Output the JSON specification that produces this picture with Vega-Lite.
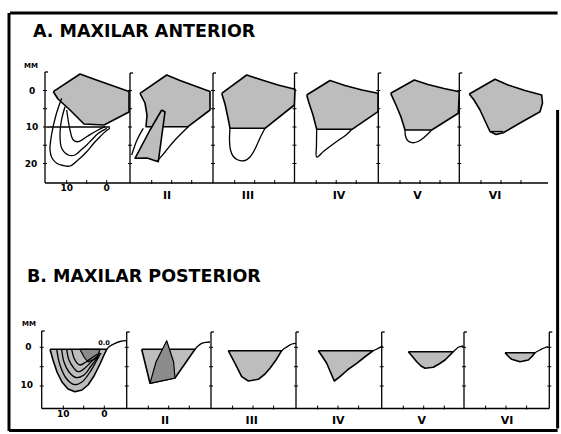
{
  "$schema": "https://vega.github.io/schema/vega-lite/v6.json",
  "width": 561,
  "height": 434,
  "autosize": {"type": "fit", "contains": "padding"},
  "padding": 0,
  "background": "white",
  "config": {"view": {"stroke": null}},
  "datasets": {
    "frame": [
      {"x": 2.5, "y": 3.25, "x2": 139.4, "y2": 3.25},
      {"x": 2.25, "y": 3.25, "x2": 2.25, "y2": 107.75},
      {"x": 2.25, "y": 107.6, "x2": 139.4, "y2": 107.6},
      {"x": 139.4, "y": 27.5, "x2": 139.4, "y2": 107.1}
    ],
    "axes": [
      {"x": 11.25, "y": 18, "x2": 11.25, "y2": 45.75},
      {"x": 32.5, "y": 18.25, "x2": 32.5, "y2": 45.75},
      {"x": 53.25, "y": 18.25, "x2": 53.25, "y2": 45.75},
      {"x": 73.625, "y": 18.25, "x2": 73.625, "y2": 45.75},
      {"x": 94.575, "y": 18.25, "x2": 94.575, "y2": 45.75},
      {"x": 114.825, "y": 18.25, "x2": 114.825, "y2": 45.75},
      {"x": 11.25, "y": 45.75, "x2": 137, "y2": 45.75},
      {"x": 11.25, "y": 18, "x2": 12, "y2": 18},
      {"x": 32.5, "y": 18.25, "x2": 33.25, "y2": 18.25},
      {"x": 53.25, "y": 18.25, "x2": 54, "y2": 18.25},
      {"x": 73.625, "y": 18.25, "x2": 74.375, "y2": 18.25},
      {"x": 94.575, "y": 18.25, "x2": 95.325, "y2": 18.25},
      {"x": 114.825, "y": 18.25, "x2": 115.575, "y2": 18.25},
      {"x": 10.425, "y": 82.75, "x2": 10.425, "y2": 102.125},
      {"x": 31.675, "y": 83, "x2": 31.675, "y2": 102.125},
      {"x": 52.75, "y": 83, "x2": 52.75, "y2": 102.125},
      {"x": 74, "y": 83, "x2": 74, "y2": 102.125},
      {"x": 95.425, "y": 83, "x2": 95.425, "y2": 102.125},
      {"x": 116, "y": 83, "x2": 116, "y2": 102.125},
      {"x": 137.325, "y": 83, "x2": 137.325, "y2": 102.125},
      {"x": 10.425, "y": 102.125, "x2": 137.325, "y2": 102.125},
      {"x": 10.425, "y": 82.75, "x2": 11.175, "y2": 82.75},
      {"x": 31.675, "y": 83, "x2": 32.425, "y2": 83},
      {"x": 52.75, "y": 83, "x2": 53.5, "y2": 83},
      {"x": 74, "y": 83, "x2": 74.75, "y2": 83},
      {"x": 95.425, "y": 83, "x2": 96.175, "y2": 83},
      {"x": 116, "y": 83, "x2": 116.75, "y2": 83},
      {"x": 137.325, "y": 83, "x2": 138.075, "y2": 83}
    ],
    "hticks": [
      {"x": 11.25, "y": 22.625}, {"x": 11.25, "y": 27.175}, {"x": 11.25, "y": 31.75}, {"x": 11.25, "y": 36.3}, {"x": 11.25, "y": 40.875},
      {"x": 32.5, "y": 22.625}, {"x": 32.5, "y": 27.175}, {"x": 32.5, "y": 31.75}, {"x": 32.5, "y": 36.3}, {"x": 32.5, "y": 40.875},
      {"x": 53.25, "y": 22.625}, {"x": 53.25, "y": 27.175}, {"x": 53.25, "y": 31.75}, {"x": 53.25, "y": 36.3}, {"x": 53.25, "y": 40.875},
      {"x": 73.625, "y": 22.625}, {"x": 73.625, "y": 27.175}, {"x": 73.625, "y": 31.75}, {"x": 73.625, "y": 36.3}, {"x": 73.625, "y": 40.875},
      {"x": 94.575, "y": 22.625}, {"x": 94.575, "y": 27.175}, {"x": 94.575, "y": 31.75}, {"x": 94.575, "y": 36.3}, {"x": 94.575, "y": 40.875},
      {"x": 114.825, "y": 22.625}, {"x": 114.825, "y": 27.175}, {"x": 114.825, "y": 31.75}, {"x": 114.825, "y": 36.3}, {"x": 114.825, "y": 40.875},
      {"x": 10.425, "y": 86.825}, {"x": 10.425, "y": 91.675}, {"x": 10.425, "y": 96.5},
      {"x": 31.675, "y": 86.825}, {"x": 31.675, "y": 91.675}, {"x": 31.675, "y": 96.5},
      {"x": 52.75, "y": 86.825}, {"x": 52.75, "y": 91.675}, {"x": 52.75, "y": 96.5},
      {"x": 74, "y": 86.825}, {"x": 74, "y": 91.675}, {"x": 74, "y": 96.5},
      {"x": 95.425, "y": 86.825}, {"x": 95.425, "y": 91.675}, {"x": 95.425, "y": 96.5},
      {"x": 116, "y": 86.825}, {"x": 116, "y": 91.675}, {"x": 116, "y": 96.5},
      {"x": 137.325, "y": 86.825}, {"x": 137.325, "y": 91.675}, {"x": 137.325, "y": 96.5}
    ],
    "vticks": [
      {"x": 16.675, "y": 45.5}, {"x": 21.675, "y": 45.5}, {"x": 26.675, "y": 45.5},
      {"x": 37.925, "y": 45.5}, {"x": 42.925, "y": 45.5}, {"x": 47.925, "y": 45.5},
      {"x": 58.675, "y": 45.5}, {"x": 63.675, "y": 45.5}, {"x": 68.675, "y": 45.5},
      {"x": 79.05, "y": 45.5}, {"x": 84.05, "y": 45.5}, {"x": 89.05, "y": 45.5},
      {"x": 100, "y": 45.5}, {"x": 105, "y": 45.5}, {"x": 110, "y": 45.5},
      {"x": 120.25, "y": 45.5}, {"x": 125.25, "y": 45.5}, {"x": 130.25, "y": 45.5},
      {"x": 15.825, "y": 101.875}, {"x": 20.925, "y": 101.875}, {"x": 26.075, "y": 101.875},
      {"x": 37.075, "y": 101.875}, {"x": 42.175, "y": 101.875}, {"x": 47.325, "y": 101.875},
      {"x": 58.15, "y": 101.875}, {"x": 63.25, "y": 101.875}, {"x": 68.4, "y": 101.875},
      {"x": 79.4, "y": 101.875}, {"x": 84.5, "y": 101.875}, {"x": 89.65, "y": 101.875},
      {"x": 100.825, "y": 101.875}, {"x": 105.925, "y": 101.875}, {"x": 111.075, "y": 101.875},
      {"x": 121.4, "y": 101.875}, {"x": 126.5, "y": 101.875}, {"x": 131.65, "y": 101.875}
    ],
    "polys": [
      {"id": "A1", "o": 0, "x": 13.325, "y": 22.925}, {"id": "A1", "o": 1, "x": 20, "y": 18.5}, {"id": "A1", "o": 2, "x": 23.75, "y": 19.875}, {"id": "A1", "o": 3, "x": 28, "y": 21.375}, {"id": "A1", "o": 4, "x": 32.25, "y": 22.875}, {"id": "A1", "o": 5, "x": 32.25, "y": 28}, {"id": "A1", "o": 6, "x": 26, "y": 31.25}, {"id": "A1", "o": 7, "x": 21, "y": 31}, {"id": "A1", "o": 8, "x": 17.5, "y": 27.5}, {"id": "A1", "o": 9, "x": 14.5, "y": 24.75}, {"id": "A1", "o": 10, "x": 13.325, "y": 22.925},
      {"id": "A2", "o": 0, "x": 35, "y": 23.325}, {"id": "A2", "o": 1, "x": 41.675, "y": 18.75}, {"id": "A2", "o": 2, "x": 45, "y": 20.125}, {"id": "A2", "o": 3, "x": 48.75, "y": 21.5}, {"id": "A2", "o": 4, "x": 52.5, "y": 22.875}, {"id": "A2", "o": 5, "x": 52.5, "y": 27.5}, {"id": "A2", "o": 6, "x": 47, "y": 31.675}, {"id": "A2", "o": 7, "x": 36.5, "y": 31.675}, {"id": "A2", "o": 8, "x": 36.75, "y": 28.75}, {"id": "A2", "o": 9, "x": 36.25, "y": 25.75}, {"id": "A2", "o": 10, "x": 35, "y": 23.325},
      {"id": "A2s", "o": 0, "x": 40.425, "y": 27.5}, {"id": "A2s", "o": 1, "x": 41.25, "y": 28}, {"id": "A2s", "o": 2, "x": 39.575, "y": 40.425}, {"id": "A2s", "o": 3, "x": 36.75, "y": 39.5}, {"id": "A2s", "o": 4, "x": 33.75, "y": 39.575}, {"id": "A2s", "o": 5, "x": 37.5, "y": 32.5}, {"id": "A2s", "o": 6, "x": 40.425, "y": 27.5},
      {"id": "A3", "o": 0, "x": 55.425, "y": 23.325}, {"id": "A3", "o": 1, "x": 61.675, "y": 18.75}, {"id": "A3", "o": 2, "x": 65.5, "y": 20}, {"id": "A3", "o": 3, "x": 69.5, "y": 21.25}, {"id": "A3", "o": 4, "x": 73.75, "y": 22.325}, {"id": "A3", "o": 5, "x": 73.575, "y": 26.25}, {"id": "A3", "o": 6, "x": 66.25, "y": 32.075}, {"id": "A3", "o": 7, "x": 57.5, "y": 32.075}, {"id": "A3", "o": 8, "x": 57, "y": 29.5}, {"id": "A3", "o": 9, "x": 56.25, "y": 26}, {"id": "A3", "o": 10, "x": 55.425, "y": 23.325},
      {"id": "A4", "o": 0, "x": 76.675, "y": 23.75}, {"id": "A4", "o": 1, "x": 82.5, "y": 20.125}, {"id": "A4", "o": 2, "x": 86.25, "y": 21.375}, {"id": "A4", "o": 3, "x": 90.5, "y": 22.5}, {"id": "A4", "o": 4, "x": 94.5, "y": 23.325}, {"id": "A4", "o": 5, "x": 94.5, "y": 27.925}, {"id": "A4", "o": 6, "x": 88, "y": 32.325}, {"id": "A4", "o": 7, "x": 79.175, "y": 32.325}, {"id": "A4", "o": 8, "x": 78.25, "y": 28.75}, {"id": "A4", "o": 9, "x": 77.25, "y": 25.75}, {"id": "A4", "o": 10, "x": 76.675, "y": 23.75},
      {"id": "A5", "o": 0, "x": 97.675, "y": 23.325}, {"id": "A5", "o": 1, "x": 103.575, "y": 20}, {"id": "A5", "o": 2, "x": 107, "y": 21.125}, {"id": "A5", "o": 3, "x": 111, "y": 22.125}, {"id": "A5", "o": 4, "x": 114.825, "y": 22.925}, {"id": "A5", "o": 5, "x": 114.575, "y": 28.325}, {"id": "A5", "o": 6, "x": 107.925, "y": 32.5}, {"id": "A5", "o": 7, "x": 101.25, "y": 32.5}, {"id": "A5", "o": 8, "x": 100.25, "y": 29.25}, {"id": "A5", "o": 9, "x": 99, "y": 26.25}, {"id": "A5", "o": 10, "x": 97.675, "y": 23.325},
      {"id": "A6", "o": 0, "x": 117.325, "y": 23.5}, {"id": "A6", "o": 1, "x": 123.75, "y": 19.825}, {"id": "A6", "o": 2, "x": 127, "y": 21.25}, {"id": "A6", "o": 3, "x": 131.25, "y": 22.625}, {"id": "A6", "o": 4, "x": 135.425, "y": 23.75}, {"id": "A6", "o": 5, "x": 135.625, "y": 25.75}, {"id": "A6", "o": 6, "x": 135, "y": 27.925}, {"id": "A6", "o": 7, "x": 130, "y": 30.75}, {"id": "A6", "o": 8, "x": 125.825, "y": 33.175}, {"id": "A6", "o": 9, "x": 124, "y": 33.625}, {"id": "A6", "o": 10, "x": 122.5, "y": 32.875}, {"id": "A6", "o": 11, "x": 121.5, "y": 30.75}, {"id": "A6", "o": 12, "x": 120, "y": 27.5}, {"id": "A6", "o": 13, "x": 118.5, "y": 25}, {"id": "A6", "o": 14, "x": 117.325, "y": 23.5},
      {"id": "B1", "o": 0, "x": 12.5, "y": 87.325}, {"id": "B1", "o": 1, "x": 13.25, "y": 90}, {"id": "B1", "o": 2, "x": 14.25, "y": 93}, {"id": "B1", "o": 3, "x": 15.5, "y": 95.5}, {"id": "B1", "o": 4, "x": 17, "y": 97.25}, {"id": "B1", "o": 5, "x": 18.75, "y": 97.925}, {"id": "B1", "o": 6, "x": 20.5, "y": 97.5}, {"id": "B1", "o": 7, "x": 22, "y": 96.25}, {"id": "B1", "o": 8, "x": 23.5, "y": 94}, {"id": "B1", "o": 9, "x": 25, "y": 91}, {"id": "B1", "o": 10, "x": 26, "y": 88.75}, {"id": "B1", "o": 11, "x": 26.675, "y": 87.325}, {"id": "B1", "o": 12, "x": 12.5, "y": 87.325},
      {"id": "B2", "o": 0, "x": 35.425, "y": 87.325}, {"id": "B2", "o": 1, "x": 37.5, "y": 95.825}, {"id": "B2", "o": 2, "x": 43.75, "y": 94.5}, {"id": "B2", "o": 3, "x": 48.75, "y": 87.325}, {"id": "B2", "o": 4, "x": 35.425, "y": 87.325},
      {"id": "B3", "o": 0, "x": 57.075, "y": 87.675}, {"id": "B3", "o": 1, "x": 58.75, "y": 90.825}, {"id": "B3", "o": 2, "x": 60.425, "y": 94.175}, {"id": "B3", "o": 3, "x": 62.075, "y": 95.25}, {"id": "B3", "o": 4, "x": 64.575, "y": 94.825}, {"id": "B3", "o": 5, "x": 66.25, "y": 93.5}, {"id": "B3", "o": 6, "x": 67.5, "y": 92.075}, {"id": "B3", "o": 7, "x": 69, "y": 90}, {"id": "B3", "o": 8, "x": 70.425, "y": 87.675}, {"id": "B3", "o": 9, "x": 57.075, "y": 87.675},
      {"id": "B4", "o": 0, "x": 79.575, "y": 87.675}, {"id": "B4", "o": 1, "x": 80.5, "y": 89}, {"id": "B4", "o": 2, "x": 81.675, "y": 90.825}, {"id": "B4", "o": 3, "x": 82.925, "y": 93.75}, {"id": "B4", "o": 4, "x": 83.575, "y": 95.25}, {"id": "B4", "o": 5, "x": 85, "y": 94.175}, {"id": "B4", "o": 6, "x": 87, "y": 92.375}, {"id": "B4", "o": 7, "x": 89.175, "y": 90.825}, {"id": "B4", "o": 8, "x": 91.5, "y": 89}, {"id": "B4", "o": 9, "x": 93.325, "y": 87.675}, {"id": "B4", "o": 10, "x": 79.575, "y": 87.675},
      {"id": "B5", "o": 0, "x": 102.075, "y": 87.925}, {"id": "B5", "o": 1, "x": 103, "y": 89}, {"id": "B5", "o": 2, "x": 104.175, "y": 90.425}, {"id": "B5", "o": 3, "x": 105.25, "y": 91.5}, {"id": "B5", "o": 4, "x": 106.25, "y": 92.075}, {"id": "B5", "o": 5, "x": 108.325, "y": 91.825}, {"id": "B5", "o": 6, "x": 109.75, "y": 91}, {"id": "B5", "o": 7, "x": 111.25, "y": 90}, {"id": "B5", "o": 8, "x": 112.25, "y": 89}, {"id": "B5", "o": 9, "x": 113.325, "y": 87.925}, {"id": "B5", "o": 10, "x": 102.075, "y": 87.925},
      {"id": "B6", "o": 0, "x": 126.25, "y": 88.175}, {"id": "B6", "o": 1, "x": 127, "y": 89}, {"id": "B6", "o": 2, "x": 127.925, "y": 89.825}, {"id": "B6", "o": 3, "x": 130, "y": 90.425}, {"id": "B6", "o": 4, "x": 132.075, "y": 90}, {"id": "B6", "o": 5, "x": 133, "y": 89.125}, {"id": "B6", "o": 6, "x": 133.75, "y": 88.175}, {"id": "B6", "o": 7, "x": 126.25, "y": 88.175}
    ],
    "darkpolys": [
      {"id": "B1d", "o": 0, "x": 20, "y": 87.325}, {"id": "B1d", "o": 1, "x": 25, "y": 87.325}, {"id": "B1d", "o": 2, "x": 24.25, "y": 89.5}, {"id": "B1d", "o": 3, "x": 22, "y": 90.5}, {"id": "B1d", "o": 4, "x": 21, "y": 89.25}, {"id": "B1d", "o": 5, "x": 20, "y": 87.325},
      {"id": "B2l", "o": 0, "x": 37.5, "y": 95.825}, {"id": "B2l", "o": 1, "x": 39, "y": 90.5}, {"id": "B2l", "o": 2, "x": 41.675, "y": 85.175}, {"id": "B2l", "o": 3, "x": 43.4, "y": 90.5}, {"id": "B2l", "o": 4, "x": 43.75, "y": 94.5}, {"id": "B2l", "o": 5, "x": 37.5, "y": 95.825}
    ],
    "lines": [
      {"id": "a1h", "o": 0, "x": 11.675, "y": 31.75}, {"id": "a1h", "o": 1, "x": 27.5, "y": 31.75},
      {"id": "a1o", "o": 0, "x": 15.425, "y": 24.575}, {"id": "a1o", "o": 1, "x": 14, "y": 28.75}, {"id": "a1o", "o": 2, "x": 12.875, "y": 33.75}, {"id": "a1o", "o": 3, "x": 12.5, "y": 37.5}, {"id": "a1o", "o": 4, "x": 13, "y": 39.5}, {"id": "a1o", "o": 5, "x": 14.175, "y": 40.825}, {"id": "a1o", "o": 6, "x": 15.75, "y": 41.375}, {"id": "a1o", "o": 7, "x": 17.5, "y": 41.5}, {"id": "a1o", "o": 8, "x": 19.5, "y": 40}, {"id": "a1o", "o": 9, "x": 21.675, "y": 37.925}, {"id": "a1o", "o": 10, "x": 23.5, "y": 35.75}, {"id": "a1o", "o": 11, "x": 25, "y": 34.175}, {"id": "a1o", "o": 12, "x": 26.5, "y": 32.75}, {"id": "a1o", "o": 13, "x": 27.5, "y": 32.075},
      {"id": "a1m", "o": 0, "x": 16.25, "y": 26.675}, {"id": "a1m", "o": 1, "x": 15.375, "y": 30}, {"id": "a1m", "o": 2, "x": 15, "y": 33.325}, {"id": "a1m", "o": 3, "x": 15.425, "y": 37.075}, {"id": "a1m", "o": 4, "x": 17.075, "y": 38.75}, {"id": "a1m", "o": 5, "x": 18.75, "y": 38.75}, {"id": "a1m", "o": 6, "x": 20.25, "y": 37.5}, {"id": "a1m", "o": 7, "x": 21.675, "y": 36.25}, {"id": "a1m", "o": 8, "x": 23, "y": 34.875}, {"id": "a1m", "o": 9, "x": 24.575, "y": 33.325}, {"id": "a1m", "o": 10, "x": 26.675, "y": 32.075},
      {"id": "a1i", "o": 0, "x": 16.675, "y": 27.5}, {"id": "a1i", "o": 1, "x": 17.5, "y": 32.5}, {"id": "a1i", "o": 2, "x": 18.325, "y": 35}, {"id": "a1i", "o": 3, "x": 19.575, "y": 35.425}, {"id": "a1i", "o": 4, "x": 21.675, "y": 34.175}, {"id": "a1i", "o": 5, "x": 24.175, "y": 32.675}, {"id": "a1i", "o": 6, "x": 26.25, "y": 31.675},
      {"id": "a2l", "o": 0, "x": 32.925, "y": 38.75}, {"id": "a2l", "o": 1, "x": 34.25, "y": 35}, {"id": "a2l", "o": 2, "x": 35.825, "y": 32.075},
      {"id": "a2r", "o": 0, "x": 39.175, "y": 40.425}, {"id": "a2r", "o": 1, "x": 41.25, "y": 38}, {"id": "a2r", "o": 2, "x": 43.75, "y": 35}, {"id": "a2r", "o": 3, "x": 47.075, "y": 31.675},
      {"id": "a3", "o": 0, "x": 57.5, "y": 32.075}, {"id": "a3", "o": 1, "x": 57.375, "y": 35}, {"id": "a3", "o": 2, "x": 57.625, "y": 37.5}, {"id": "a3", "o": 3, "x": 58.25, "y": 39}, {"id": "a3", "o": 4, "x": 59.5, "y": 40}, {"id": "a3", "o": 5, "x": 61.25, "y": 40.125}, {"id": "a3", "o": 6, "x": 62.5, "y": 39.25}, {"id": "a3", "o": 7, "x": 63.75, "y": 37.25}, {"id": "a3", "o": 8, "x": 65, "y": 34.5}, {"id": "a3", "o": 9, "x": 66.25, "y": 32.075},
      {"id": "a4", "o": 0, "x": 79.175, "y": 32.325}, {"id": "a4", "o": 1, "x": 79.125, "y": 36.25}, {"id": "a4", "o": 2, "x": 79.175, "y": 39.25}, {"id": "a4", "o": 3, "x": 81, "y": 37.75}, {"id": "a4", "o": 4, "x": 84, "y": 35.5}, {"id": "a4", "o": 5, "x": 86.5, "y": 33.75}, {"id": "a4", "o": 6, "x": 88, "y": 32.325},
      {"id": "a5", "o": 0, "x": 101.25, "y": 32.5}, {"id": "a5", "o": 1, "x": 101.375, "y": 34}, {"id": "a5", "o": 2, "x": 101.875, "y": 35.125}, {"id": "a5", "o": 3, "x": 103, "y": 35.675}, {"id": "a5", "o": 4, "x": 104.5, "y": 35.375}, {"id": "a5", "o": 5, "x": 106, "y": 34.375}, {"id": "a5", "o": 6, "x": 107.925, "y": 32.5},
      {"id": "a6", "o": 0, "x": 122.75, "y": 32.875}, {"id": "a6", "o": 1, "x": 125.75, "y": 32.875},
      {"id": "b1g", "o": 0, "x": 26.675, "y": 87.325}, {"id": "b1g", "o": 1, "x": 27.5, "y": 86.5}, {"id": "b1g", "o": 2, "x": 28.75, "y": 85.825}, {"id": "b1g", "o": 3, "x": 30, "y": 85.375}, {"id": "b1g", "o": 4, "x": 31.675, "y": 85.175},
      {"id": "b1c1", "o": 0, "x": 14.175, "y": 87.325}, {"id": "b1c1", "o": 1, "x": 15, "y": 91.25}, {"id": "b1c1", "o": 2, "x": 16.5, "y": 94.5}, {"id": "b1c1", "o": 3, "x": 18.5, "y": 96.125}, {"id": "b1c1", "o": 4, "x": 20.5, "y": 95.5}, {"id": "b1c1", "o": 5, "x": 22.5, "y": 93}, {"id": "b1c1", "o": 6, "x": 24.25, "y": 90}, {"id": "b1c1", "o": 7, "x": 25.25, "y": 88.25},
      {"id": "b1c2", "o": 0, "x": 15.425, "y": 87.325}, {"id": "b1c2", "o": 1, "x": 16, "y": 90.5}, {"id": "b1c2", "o": 2, "x": 17.25, "y": 93}, {"id": "b1c2", "o": 3, "x": 19, "y": 94.375}, {"id": "b1c2", "o": 4, "x": 21, "y": 93.75}, {"id": "b1c2", "o": 5, "x": 22.75, "y": 91.5}, {"id": "b1c2", "o": 6, "x": 24.5, "y": 89.25},
      {"id": "b1c3", "o": 0, "x": 16.675, "y": 87.325}, {"id": "b1c3", "o": 1, "x": 17.25, "y": 90}, {"id": "b1c3", "o": 2, "x": 18.25, "y": 91.75}, {"id": "b1c3", "o": 3, "x": 19.5, "y": 92.925}, {"id": "b1c3", "o": 4, "x": 21.25, "y": 92}, {"id": "b1c3", "o": 5, "x": 23, "y": 90.25}, {"id": "b1c3", "o": 6, "x": 24.75, "y": 88.75},
      {"id": "b1c4", "o": 0, "x": 17.925, "y": 87.325}, {"id": "b1c4", "o": 1, "x": 18.5, "y": 89.5}, {"id": "b1c4", "o": 2, "x": 19.25, "y": 90.75}, {"id": "b1c4", "o": 3, "x": 20, "y": 91.25}, {"id": "b1c4", "o": 4, "x": 21.5, "y": 90.5}, {"id": "b1c4", "o": 5, "x": 23.25, "y": 89.25}, {"id": "b1c4", "o": 6, "x": 25, "y": 88.25},
      {"id": "b2g", "o": 0, "x": 48.75, "y": 87.325}, {"id": "b2g", "o": 1, "x": 49.5, "y": 86.5}, {"id": "b2g", "o": 2, "x": 50.425, "y": 85.825}, {"id": "b2g", "o": 3, "x": 51.5, "y": 85.575}, {"id": "b2g", "o": 4, "x": 52.5, "y": 85.5},
      {"id": "b3g", "o": 0, "x": 70.425, "y": 87.675}, {"id": "b3g", "o": 1, "x": 71.25, "y": 87}, {"id": "b3g", "o": 2, "x": 72.075, "y": 86.5}, {"id": "b3g", "o": 3, "x": 73, "y": 86}, {"id": "b3g", "o": 4, "x": 74, "y": 85.825},
      {"id": "b4g", "o": 0, "x": 93.325, "y": 87.675}, {"id": "b4g", "o": 1, "x": 94.25, "y": 87.25}, {"id": "b4g", "o": 2, "x": 95, "y": 86.825}, {"id": "b4g", "o": 3, "x": 95.675, "y": 86.5},
      {"id": "b5g", "o": 0, "x": 113.325, "y": 87.925}, {"id": "b5g", "o": 1, "x": 114, "y": 87.325}, {"id": "b5g", "o": 2, "x": 114.575, "y": 86.825}, {"id": "b5g", "o": 3, "x": 115.825, "y": 86.5},
      {"id": "b6g", "o": 0, "x": 133.75, "y": 88.175}, {"id": "b6g", "o": 1, "x": 135, "y": 87.5}, {"id": "b6g", "o": 2, "x": 136, "y": 87}, {"id": "b6g", "o": 3, "x": 137.075, "y": 86.675}
    ],
    "titles": [
      {"x": 8.25, "y": 8.0, "label": "A. MAXILAR ANTERIOR"},
      {"x": 6.75, "y": 69.25, "label": "B. MAXILAR POSTERIOR"}
    ],
    "units": [
      {"x": 7.75, "y": 16.375, "label": "MM"},
      {"x": 7.25, "y": 81, "label": "MM"}
    ],
    "ticklabels": [
      {"x": 8, "y": 22.625, "label": "0"},
      {"x": 8, "y": 31.75, "label": "10"},
      {"x": 7.75, "y": 40.875, "label": "20"},
      {"x": 7.075, "y": 86.825, "label": "0"},
      {"x": 6.675, "y": 96.25, "label": "10"},
      {"x": 16.675, "y": 46.875, "label": "10"},
      {"x": 26.675, "y": 46.875, "label": "0"},
      {"x": 15.825, "y": 103.5, "label": "10"},
      {"x": 26.075, "y": 103.5, "label": "0"}
    ],
    "small": [
      {"x": 26, "y": 85.75, "label": "0.0"}
    ],
    "romans": [
      {"x": 41.75, "y": 48.875, "label": "II"},
      {"x": 62, "y": 48.875, "label": "III"},
      {"x": 84.75, "y": 48.875, "label": "IV"},
      {"x": 104.375, "y": 48.875, "label": "V"},
      {"x": 123.75, "y": 48.875, "label": "VI"},
      {"x": 41.25, "y": 105.25, "label": "II"},
      {"x": 62.925, "y": 105.25, "label": "III"},
      {"x": 84.575, "y": 105.25, "label": "IV"},
      {"x": 105.425, "y": 105.25, "label": "V"},
      {"x": 126.75, "y": 105.25, "label": "VI"}
    ]
  },
  "encoding": {
    "x": {"field": "x", "type": "quantitative", "scale": {"domain": [0, 140.25], "nice": false, "zero": false}, "axis": null},
    "y": {"field": "y", "type": "quantitative", "scale": {"domain": [0, 108.5], "reverse": true, "nice": false, "zero": false}, "axis": null}
  },
  "layer": [
    {
      "data": {"name": "frame"},
      "mark": {"type": "rule", "color": "black", "strokeWidth": 3},
      "encoding": {"x2": {"field": "x2"}, "y2": {"field": "y2"}}
    },
    {
      "data": {"name": "axes"},
      "mark": {"type": "rule", "color": "black", "strokeWidth": 1.3},
      "encoding": {"x2": {"field": "x2"}, "y2": {"field": "y2"}}
    },
    {
      "data": {"name": "hticks"},
      "mark": {"type": "tick", "orient": "horizontal", "size": 4, "thickness": 1, "color": "black", "opacity": 1}
    },
    {
      "data": {"name": "vticks"},
      "mark": {"type": "tick", "orient": "vertical", "size": 4, "thickness": 1, "color": "black", "opacity": 1}
    },
    {
      "data": {"name": "polys"},
      "mark": {"type": "line", "fill": "#bdbdbd", "stroke": "black", "strokeWidth": 1.6, "strokeJoin": "round", "interpolate": "linear"},
      "encoding": {"detail": {"field": "id"}, "order": {"field": "o", "type": "quantitative"}}
    },
    {
      "data": {"name": "darkpolys"},
      "mark": {"type": "line", "fill": "#8c8c8c", "stroke": "black", "strokeWidth": 1.2, "strokeJoin": "round", "interpolate": "linear"},
      "encoding": {"detail": {"field": "id"}, "order": {"field": "o", "type": "quantitative"}}
    },
    {
      "data": {"name": "lines"},
      "mark": {"type": "line", "stroke": "black", "strokeWidth": 1.3, "interpolate": "catmull-rom"},
      "encoding": {"detail": {"field": "id"}, "order": {"field": "o", "type": "quantitative"}}
    },
    {
      "data": {"name": "titles"},
      "mark": {"type": "text", "align": "left", "baseline": "middle", "font": "DejaVu Sans", "fontWeight": "bold", "fontSize": 17.5, "color": "black"},
      "encoding": {"text": {"field": "label"}}
    },
    {
      "data": {"name": "units"},
      "mark": {"type": "text", "align": "center", "baseline": "middle", "font": "DejaVu Sans", "fontWeight": "bold", "fontSize": 7, "color": "black"},
      "encoding": {"text": {"field": "label"}}
    },
    {
      "data": {"name": "ticklabels"},
      "mark": {"type": "text", "align": "center", "baseline": "middle", "font": "DejaVu Sans", "fontWeight": "bold", "fontSize": 9, "color": "black"},
      "encoding": {"text": {"field": "label"}}
    },
    {
      "data": {"name": "small"},
      "mark": {"type": "text", "align": "center", "baseline": "middle", "font": "DejaVu Sans", "fontWeight": "bold", "fontSize": 6.5, "color": "black"},
      "encoding": {"text": {"field": "label"}}
    },
    {
      "data": {"name": "romans"},
      "mark": {"type": "text", "align": "center", "baseline": "middle", "font": "DejaVu Sans", "fontWeight": "bold", "fontSize": 11, "color": "black"},
      "encoding": {"text": {"field": "label"}}
    }
  ]
}
